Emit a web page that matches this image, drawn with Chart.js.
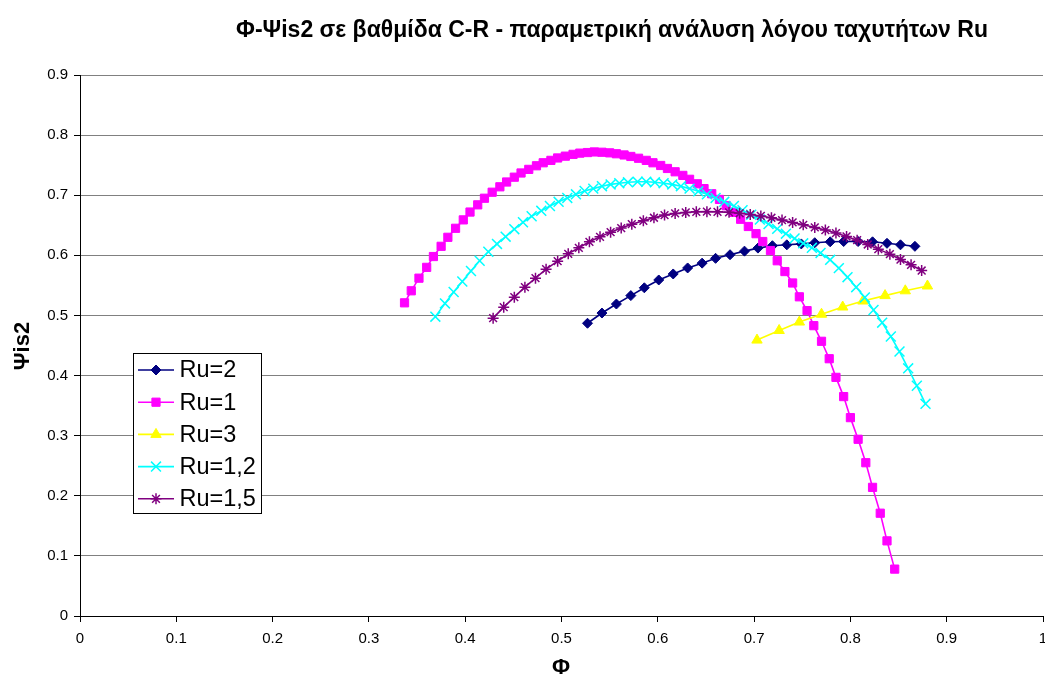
<!DOCTYPE html>
<html>
<head>
<meta charset="utf-8">
<script src="https://cdn.jsdelivr.net/npm/chart.js@4.4.1/dist/chart.umd.min.js"></script>
<style>
  html, body { margin: 0; padding: 0; background: #fff; }
  #wrap { width: 1045px; height: 680px; }
</style>
</head>
<body>
<div id="wrap"><canvas id="grafico" width="1045" height="680"></canvas></div>
<script>
const titulo = 'Φ-Ψis2 σε βαθμίδα C-R - παραμετρική ανάλυση λόγου ταχυτήτων Ru';
const tituloX = 'Φ';
const tituloY = 'Ψis2';
const series = ['Ru=2', 'Ru=1', 'Ru=3', 'Ru=1,2', 'Ru=1,5'];
const xTicks = [0, 0.1, 0.2, 0.3, 0.4, 0.5, 0.6, 0.7, 0.8, 0.9, 1];
const yTicks = [0, 0.1, 0.2, 0.3, 0.4, 0.5, 0.6, 0.7, 0.8, 0.9];

// Ru=2
const phiRu2 = [0.527, 0.542, 0.557, 0.572, 0.586, 0.601, 0.616, 0.631, 0.646, 0.660, 0.675, 0.690,
  0.704, 0.719, 0.734, 0.749, 0.763, 0.779, 0.793, 0.808, 0.823, 0.838, 0.852, 0.867];
const psiRu2 = [0.487, 0.504, 0.519, 0.533, 0.546, 0.559, 0.569, 0.579, 0.587, 0.595, 0.601, 0.607,
  0.612, 0.616, 0.6175, 0.619, 0.621, 0.6225, 0.623, 0.623, 0.6225, 0.620, 0.6175, 0.615];

// Ru=1
const phiRu1 = [0.337, 0.344, 0.352, 0.360, 0.367, 0.375, 0.382, 0.390, 0.398, 0.405, 0.413, 0.420,
  0.428, 0.436, 0.443, 0.451, 0.458, 0.466, 0.474, 0.481, 0.489, 0.496, 0.504, 0.512, 0.519, 0.527,
  0.534, 0.542, 0.550, 0.557, 0.565, 0.572, 0.580, 0.588, 0.595, 0.603, 0.610, 0.618, 0.626, 0.633,
  0.641, 0.648, 0.656, 0.664, 0.671, 0.679, 0.686, 0.694, 0.702, 0.709, 0.717, 0.724, 0.732, 0.740,
  0.747, 0.755, 0.762, 0.770, 0.778, 0.785, 0.793, 0.800, 0.808, 0.816, 0.823, 0.831, 0.838, 0.846];
const psiRu1 = [0.521, 0.541, 0.562, 0.580, 0.598, 0.615, 0.630, 0.645, 0.659, 0.672, 0.684, 0.695,
  0.705, 0.714, 0.722, 0.730, 0.737, 0.743, 0.749, 0.754, 0.758, 0.762, 0.765, 0.768, 0.770, 0.771,
  0.772, 0.7715, 0.7705, 0.769, 0.767, 0.7645, 0.7615, 0.758, 0.754, 0.7495, 0.7445, 0.739, 0.733, 0.7265,
  0.719, 0.711, 0.7025, 0.693, 0.6825, 0.6715, 0.660, 0.648, 0.636, 0.623, 0.608, 0.591, 0.573, 0.554,
  0.531, 0.508, 0.483, 0.457, 0.428, 0.397, 0.365, 0.330, 0.294, 0.255, 0.214, 0.171, 0.125, 0.078];

// Ru=3
const phiRu3 = [0.703, 0.726, 0.747, 0.770, 0.792, 0.813, 0.836, 0.857, 0.880];
const psiRu3 = [0.459, 0.475, 0.489, 0.502, 0.514, 0.524, 0.533, 0.541, 0.549];

// Ru=1,2
const phiRu12 = [0.369, 0.379, 0.388, 0.397, 0.406, 0.415, 0.424, 0.433, 0.442, 0.451, 0.460, 0.469,
  0.479, 0.488, 0.497, 0.506, 0.515, 0.524, 0.533, 0.542, 0.551, 0.560, 0.569, 0.579, 0.588, 0.597,
  0.606, 0.615, 0.624, 0.633, 0.642, 0.651, 0.660, 0.669, 0.679, 0.688, 0.697, 0.706, 0.715, 0.724,
  0.733, 0.742, 0.751, 0.760, 0.769, 0.779, 0.788, 0.797, 0.806, 0.815, 0.824, 0.833, 0.842, 0.851,
  0.860, 0.869, 0.878];
const psiRu12 = [0.498, 0.520, 0.539, 0.5565, 0.574, 0.591, 0.606, 0.619, 0.631, 0.6435, 0.655, 0.665,
  0.674, 0.682, 0.689, 0.6955, 0.7015, 0.707, 0.711, 0.715, 0.718, 0.720, 0.7215, 0.7225, 0.7225, 0.7215,
  0.720, 0.718, 0.715, 0.711, 0.7065, 0.7015, 0.6955, 0.689, 0.682, 0.675, 0.6675, 0.6595, 0.652, 0.644,
  0.636, 0.628, 0.620, 0.6125, 0.604, 0.5925, 0.5787, 0.5637, 0.547, 0.530, 0.509, 0.488, 0.465, 0.440,
  0.412, 0.383, 0.353];

// Ru=1,5
const phiRu15 = [0.429, 0.440, 0.451, 0.462, 0.473, 0.484, 0.496, 0.507, 0.518, 0.529, 0.540, 0.551,
  0.562, 0.573, 0.585, 0.596, 0.607, 0.618, 0.629, 0.640, 0.651, 0.662, 0.674, 0.685, 0.696, 0.707,
  0.718, 0.729, 0.740, 0.751, 0.763, 0.774, 0.785, 0.796, 0.807, 0.818, 0.829, 0.841, 0.852, 0.863, 0.874];
const psiRu15 = [0.4955, 0.5138, 0.5304, 0.5471, 0.562, 0.577, 0.5903, 0.6025, 0.6125, 0.6225, 0.6308, 0.6386,
  0.6453, 0.6519, 0.6575, 0.6625, 0.6669, 0.6697, 0.6713, 0.6724, 0.6727, 0.6724, 0.6715, 0.670, 0.668, 0.6655,
  0.6625, 0.6586, 0.6547, 0.6508, 0.6464, 0.642, 0.637, 0.6314, 0.6253, 0.618, 0.6103, 0.602, 0.593, 0.5842, 0.5747];

const cores = ['#000080', '#FF00FF', '#FFFF00', '#00FFFF', '#800080'];
const marcadores = [
  { pointStyle: 'rectRot', radius: 5, borderWidth: 1 },
  { pointStyle: 'rect', radius: 5.8, borderWidth: 1 },
  { pointStyle: 'triangle', radius: 6, borderWidth: 1 },
  { pointStyle: 'crossRot', radius: 7, borderWidth: 1.5 },
  { pointStyle: 'star', radius: 5.5, borderWidth: 1.5 }
];
const eixosX = [phiRu2, phiRu1, phiRu3, phiRu12, phiRu15];
const eixosY = [psiRu2, psiRu1, psiRu3, psiRu12, psiRu15];

const fonte = 'Arial, "Liberation Sans", sans-serif';
const direita = 1043; // right edge of the plot area

const datasets = series.map((nome, i) => ({
  label: nome,
  data: eixosX[i].map((x, k) => ({ x: x, y: eixosY[i][k] })),
  showLine: true,
  borderColor: cores[i],
  backgroundColor: cores[i],
  borderWidth: 1.6,
  pointStyle: marcadores[i].pointStyle,
  pointRadius: marcadores[i].radius,
  pointBorderWidth: marcadores[i].borderWidth,
  pointBorderColor: cores[i],
  pointBackgroundColor: cores[i],
  order: series.length - i
}));

// stretch the plot to the right edge (chart.js keeps room for the "1" label)
const esticar = {
  id: 'esticar',
  afterLayout(chart) {
    const ca = chart.chartArea;
    ca.right = direita;
    ca.width = direita - ca.left;
    const xs = chart.scales.x;
    xs.right = direita;
    xs.width = direita - xs.left;
    xs.configure();
  }
};

// titles + legend box drawn over the chart
const textos = {
  id: 'textos',
  afterDraw(chart) {
    const ctx = chart.ctx;
    ctx.save();
    ctx.fillStyle = '#000';
    ctx.textAlign = 'center';
    ctx.textBaseline = 'middle';
    ctx.font = 'bold 23px ' + fonte;
    ctx.fillText(titulo, 612, 31);
    ctx.font = 'bold 22px ' + fonte;
    ctx.fillText(tituloX, 561, 668);
    ctx.save();
    ctx.translate(23, 346);
    ctx.rotate(-Math.PI / 2);
    ctx.fillText(tituloY, 0, 0);
    ctx.restore();

    // legend
    ctx.fillStyle = '#fff';
    ctx.fillRect(133.5, 353.5, 128, 160);
    ctx.strokeStyle = '#000';
    ctx.lineWidth = 1;
    ctx.strokeRect(133.5, 353.5, 128, 160);
    ctx.font = '23.5px ' + fonte;
    ctx.textAlign = 'left';
    series.forEach((nome, i) => {
      const y = 370 + i * 32.2;
      ctx.strokeStyle = cores[i];
      ctx.fillStyle = cores[i];
      ctx.lineWidth = 1.6;
      ctx.beginPath();
      ctx.moveTo(138, y);
      ctx.lineTo(174, y);
      ctx.stroke();
      ctx.lineWidth = marcadores[i].borderWidth;
      Chart.helpers.drawPoint(ctx, {
        pointStyle: marcadores[i].pointStyle,
        radius: marcadores[i].radius,
        rotation: 0,
        borderWidth: marcadores[i].borderWidth
      }, 156, y);
      ctx.fillStyle = '#000';
      ctx.fillText(nome, 179.5, y + 1);
    });
    ctx.restore();
  }
};

new Chart(document.getElementById('grafico'), {
  type: 'scatter',
  data: { datasets: datasets },
  options: {
    responsive: false,
    animation: false,
    events: [],
    layout: { padding: { top: 75, left: 20, right: 2, bottom: 0 } },
    plugins: { legend: { display: false }, tooltip: { enabled: false } },
    scales: {
      x: {
        type: 'linear',
        min: 0,
        max: 1,
        afterBuildTicks: s => { s.ticks = xTicks.map(v => ({ value: v })); },
        afterFit: s => { s.height = 64; },
        ticks: {
          color: '#000',
          font: { family: fonte, size: 15 },
          padding: 8,
          maxRotation: 0,
          callback: v => String(+v.toFixed(1))
        },
        grid: { drawOnChartArea: false, drawTicks: true, tickLength: 6, tickColor: '#000' },
        border: { color: '#000', width: 1 }
      },
      y: {
        type: 'linear',
        min: 0,
        max: 0.9,
        afterBuildTicks: s => { s.ticks = yTicks.map(v => ({ value: v })); },
        afterFit: s => { s.width = 60; },
        ticks: {
          color: '#000',
          font: { family: fonte, size: 15 },
          padding: 6,
          callback: v => String(+v.toFixed(1))
        },
        grid: { color: '#808080', lineWidth: 1, tickLength: 6, tickColor: '#000' },
        border: { color: '#000', width: 1 }
      }
    }
  },
  plugins: [esticar, textos]
});
</script>
</body>
</html>
